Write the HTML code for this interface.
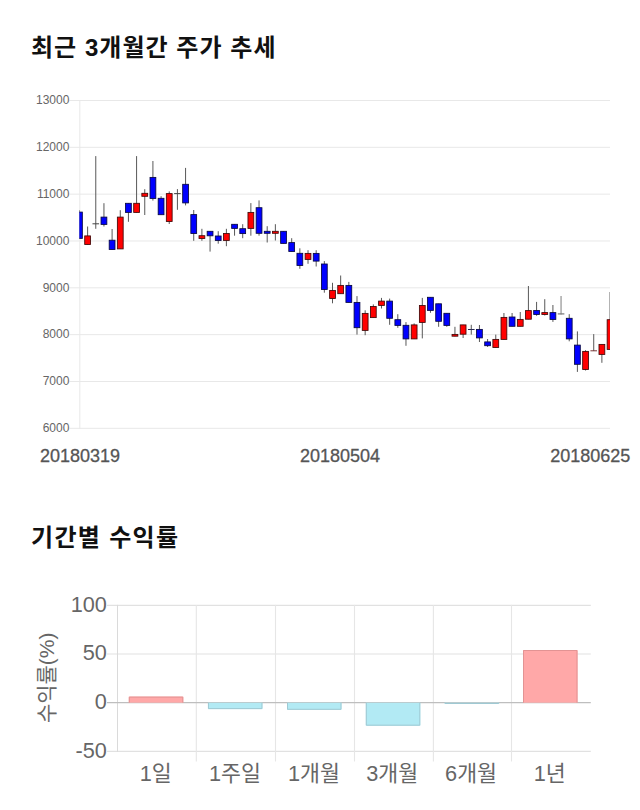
<!DOCTYPE html>
<html lang="ko">
<head>
<meta charset="utf-8">
<title>최근 3개월간 주가 추세 / 기간별 수익률</title>
<style>
html,body{margin:0;padding:0;background:#ffffff;}
body{width:640px;height:810px;overflow:hidden;font-family:"Liberation Sans",sans-serif;}
svg{display:block;position:absolute;left:0;top:0;}
text{font-family:"Liberation Sans","Noto Sans CJK KR",sans-serif;}
.grid{stroke:#e8e8e8;stroke-width:1;fill:none;}
.grid2{stroke:#e1e1e1;stroke-width:1.1;fill:none;}
.wick{stroke:#585858;stroke-width:1;fill:none;}
.up{fill:#ff0000;stroke:#400808;stroke-width:0.85;}
.dn{fill:#0000ff;stroke:#080840;stroke-width:0.85;}
.ttl{fill:#111111;}
.lbl{fill:#666666;}
.xl{fill:#555555;stroke:#555555;stroke-width:0.3;}
</style>
</head>
<body>
<svg width="640" height="810" viewBox="0 0 640 810" role="img" aria-label="최근 3개월간 주가 추세, 기간별 수익률">
<rect x="0" y="0" width="640" height="810" fill="#ffffff"/>
<text class="ttl" x="31" y="55.5" font-size="24" font-weight="bold" textLength="244.5" lengthAdjust="spacing">최근 3개월간 주가 추세</text>
<g id="candle-chart">
<g class="grid">
<line x1="69.4" y1="100.5" x2="610" y2="100.5"/>
<line x1="69.4" y1="147.33" x2="610" y2="147.33"/>
<line x1="69.4" y1="194.16" x2="610" y2="194.16"/>
<line x1="69.4" y1="240.99" x2="610" y2="240.99"/>
<line x1="69.4" y1="287.81" x2="610" y2="287.81"/>
<line x1="69.4" y1="334.64" x2="610" y2="334.64"/>
<line x1="69.4" y1="381.47" x2="610" y2="381.47"/>
<line x1="69.4" y1="428.3" x2="610" y2="428.3"/>
<line x1="79.8" y1="100" x2="79.8" y2="428.8"/>
</g>
<text class="lbl" x="69.4" y="104.2" font-size="12" text-anchor="end">13000</text>
<text class="lbl" x="69.4" y="151.03" font-size="12" text-anchor="end">12000</text>
<text class="lbl" x="69.4" y="197.86" font-size="12" text-anchor="end">11000</text>
<text class="lbl" x="69.4" y="244.69" font-size="12" text-anchor="end">10000</text>
<text class="lbl" x="69.4" y="291.52" font-size="12" text-anchor="end">9000</text>
<text class="lbl" x="69.4" y="338.34" font-size="12" text-anchor="end">8000</text>
<text class="lbl" x="69.4" y="385.17" font-size="12" text-anchor="end">7000</text>
<text class="lbl" x="69.4" y="432" font-size="12" text-anchor="end">6000</text>
<clipPath id="cc"><rect x="79.4" y="90" width="530.6" height="345"/></clipPath>
<g clip-path="url(#cc)">
<line class="wick" x1="79.45" y1="210.2" x2="79.45" y2="238.5"/><rect class="dn" x="76.55" y="212.1" width="5.8" height="26.3"/>
<line class="wick" x1="87.61" y1="226.5" x2="87.61" y2="244.6"/><rect class="up" x="84.71" y="235.9" width="5.8" height="8.6"/>
<line class="wick" x1="95.78" y1="156.1" x2="95.78" y2="228.8"/><line x1="92.48" y1="223.8" x2="99.08" y2="223.8" stroke="#444444" stroke-width="1"/>
<line class="wick" x1="103.94" y1="203.2" x2="103.94" y2="226.5"/><rect class="dn" x="101.04" y="217.1" width="5.8" height="7.3"/>
<line class="wick" x1="112.1" y1="229" x2="112.1" y2="249.6"/><rect class="dn" x="109.2" y="240.2" width="5.8" height="9.3"/>
<line class="wick" x1="120.27" y1="210.2" x2="120.27" y2="249"/><rect class="up" x="117.37" y="217.1" width="5.8" height="31.8"/>
<line class="wick" x1="128.43" y1="203.2" x2="128.43" y2="221.8"/><rect class="dn" x="125.53" y="203.3" width="5.8" height="9.1"/>
<line class="wick" x1="136.59" y1="156.1" x2="136.59" y2="212.5"/><rect class="up" x="133.69" y="203.3" width="5.8" height="9.1"/>
<line class="wick" x1="144.75" y1="189.2" x2="144.75" y2="215"/><rect class="up" x="141.85" y="193.3" width="5.8" height="3"/>
<line class="wick" x1="152.92" y1="161" x2="152.92" y2="200.6"/><rect class="dn" x="150.02" y="177.4" width="5.8" height="21.1"/>
<line class="wick" x1="161.08" y1="196.2" x2="161.08" y2="214.8"/><rect class="dn" x="158.18" y="198.3" width="5.8" height="16.4"/>
<line class="wick" x1="169.24" y1="191.4" x2="169.24" y2="224"/><rect class="up" x="166.34" y="193.6" width="5.8" height="27.9"/>
<line class="wick" x1="177.41" y1="189.1" x2="177.41" y2="209.8"/><line x1="174.11" y1="193.6" x2="180.71" y2="193.6" stroke="#444444" stroke-width="1"/>
<line class="wick" x1="185.57" y1="167.9" x2="185.57" y2="205.4"/><rect class="dn" x="182.67" y="184.3" width="5.8" height="18.6"/>
<line class="wick" x1="193.73" y1="210" x2="193.73" y2="240.8"/><rect class="dn" x="190.83" y="214.6" width="5.8" height="18.9"/>
<line class="wick" x1="201.9" y1="228.8" x2="201.9" y2="240.8"/><rect class="up" x="199" y="235.7" width="5.8" height="2.8"/>
<line class="wick" x1="210.06" y1="231.2" x2="210.06" y2="251.6"/><rect class="dn" x="207.16" y="231.3" width="5.8" height="4.5"/>
<line class="wick" x1="218.22" y1="231.2" x2="218.22" y2="243.7"/><rect class="dn" x="215.32" y="236" width="5.8" height="4.5"/>
<line class="wick" x1="226.39" y1="228.8" x2="226.39" y2="246.2"/><rect class="up" x="223.49" y="233.5" width="5.8" height="6.9"/>
<line class="wick" x1="234.55" y1="224.2" x2="234.55" y2="235.7"/><rect class="dn" x="231.65" y="224.3" width="5.8" height="4.1"/>
<line class="wick" x1="242.71" y1="224.2" x2="242.71" y2="238.2"/><rect class="dn" x="239.81" y="228.7" width="5.8" height="4.9"/>
<line class="wick" x1="250.87" y1="203.1" x2="250.87" y2="235.7"/><rect class="up" x="247.97" y="212.4" width="5.8" height="16"/>
<line class="wick" x1="259.04" y1="200.4" x2="259.04" y2="235.7"/><rect class="dn" x="256.14" y="207.7" width="5.8" height="25.6"/>
<line class="wick" x1="267.2" y1="226.2" x2="267.2" y2="242.5"/><rect class="dn" x="264.3" y="231.3" width="5.8" height="2"/>
<line class="wick" x1="275.36" y1="224.2" x2="275.36" y2="240.5"/><rect class="up" x="272.46" y="231.3" width="5.8" height="2"/>
<line class="wick" x1="283.53" y1="231.2" x2="283.53" y2="243.5"/><rect class="dn" x="280.63" y="231.3" width="5.8" height="12.1"/>
<line class="wick" x1="291.69" y1="238.2" x2="291.69" y2="251.6"/><rect class="dn" x="288.79" y="242.6" width="5.8" height="8.9"/>
<line class="wick" x1="299.85" y1="248.3" x2="299.85" y2="268.8"/><rect class="dn" x="296.95" y="253.3" width="5.8" height="12.2"/>
<line class="wick" x1="308.02" y1="250.2" x2="308.02" y2="263.8"/><rect class="up" x="305.12" y="253.4" width="5.8" height="6"/>
<line class="wick" x1="316.18" y1="250.2" x2="316.18" y2="266.5"/><rect class="dn" x="313.28" y="253.4" width="5.8" height="7.7"/>
<line class="wick" x1="324.34" y1="261.1" x2="324.34" y2="292.7"/><rect class="dn" x="321.44" y="264" width="5.8" height="25.5"/>
<line class="wick" x1="332.51" y1="282.8" x2="332.51" y2="303.3"/><rect class="up" x="329.61" y="290.4" width="5.8" height="8.1"/>
<line class="wick" x1="340.67" y1="275.5" x2="340.67" y2="293.8"/><rect class="up" x="337.77" y="285.4" width="5.8" height="8.3"/>
<line class="wick" x1="348.83" y1="281.9" x2="348.83" y2="302.5"/><rect class="dn" x="345.93" y="285.4" width="5.8" height="17"/>
<line class="wick" x1="356.99" y1="296.1" x2="356.99" y2="334.6"/><rect class="dn" x="354.09" y="302.4" width="5.8" height="25.3"/>
<line class="wick" x1="365.16" y1="310.3" x2="365.16" y2="335.2"/><rect class="up" x="362.26" y="313.4" width="5.8" height="17"/>
<line class="wick" x1="373.32" y1="304.4" x2="373.32" y2="317.7"/><rect class="up" x="370.42" y="306.5" width="5.8" height="11.1"/>
<line class="wick" x1="381.48" y1="297.9" x2="381.48" y2="308.5"/><rect class="up" x="378.58" y="301.1" width="5.8" height="4.3"/>
<line class="wick" x1="389.65" y1="298.6" x2="389.65" y2="324.8"/><rect class="dn" x="386.75" y="301.1" width="5.8" height="17.2"/>
<line class="wick" x1="397.81" y1="314.2" x2="397.81" y2="327.8"/><rect class="dn" x="394.91" y="319.7" width="5.8" height="5.7"/>
<line class="wick" x1="405.97" y1="322.1" x2="405.97" y2="345.8"/><rect class="dn" x="403.07" y="325.3" width="5.8" height="13.6"/>
<line class="wick" x1="414.14" y1="323.4" x2="414.14" y2="339"/><rect class="up" x="411.24" y="324.9" width="5.8" height="14"/>
<line class="wick" x1="422.3" y1="297.9" x2="422.3" y2="338.4"/><rect class="up" x="419.4" y="305.5" width="5.8" height="16.9"/>
<line class="wick" x1="430.46" y1="297.2" x2="430.46" y2="312.8"/><rect class="dn" x="427.56" y="297.3" width="5.8" height="13.1"/>
<line class="wick" x1="438.63" y1="303.7" x2="438.63" y2="326.8"/><rect class="dn" x="435.73" y="303.8" width="5.8" height="17.5"/>
<line class="wick" x1="446.79" y1="313.2" x2="446.79" y2="326.8"/><rect class="dn" x="443.89" y="313.3" width="5.8" height="12.1"/>
<line class="wick" x1="454.95" y1="326.8" x2="454.95" y2="336.3"/><rect class="up" x="452.05" y="334.4" width="5.8" height="1.8"/>
<line class="wick" x1="463.11" y1="324.8" x2="463.11" y2="338"/><rect class="up" x="460.21" y="324.9" width="5.8" height="9.3"/>
<line class="wick" x1="471.28" y1="324.8" x2="471.28" y2="334.6"/><line x1="467.98" y1="329.5" x2="474.58" y2="329.5" stroke="#2a2a55" stroke-width="1"/>
<line class="wick" x1="479.44" y1="325" x2="479.44" y2="342"/><rect class="dn" x="476.54" y="329.4" width="5.8" height="8.5"/>
<line class="wick" x1="487.6" y1="339" x2="487.6" y2="347"/><rect class="dn" x="484.7" y="341.9" width="5.8" height="3.8"/>
<line class="wick" x1="495.77" y1="334.6" x2="495.77" y2="347.6"/><rect class="up" x="492.87" y="339.4" width="5.8" height="8.1"/>
<line class="wick" x1="503.93" y1="313" x2="503.93" y2="339.5"/><rect class="up" x="501.03" y="317.4" width="5.8" height="22"/>
<line class="wick" x1="512.09" y1="313" x2="512.09" y2="326.4"/><rect class="dn" x="509.19" y="317" width="5.8" height="9.3"/>
<line class="wick" x1="520.26" y1="312" x2="520.26" y2="326.4"/><rect class="up" x="517.36" y="319.4" width="5.8" height="6.9"/>
<line class="wick" x1="528.42" y1="286" x2="528.42" y2="319.3"/><rect class="up" x="525.52" y="310.6" width="5.8" height="8.6"/>
<line class="wick" x1="536.58" y1="301.9" x2="536.58" y2="315.8"/><rect class="dn" x="533.68" y="310.5" width="5.8" height="4"/>
<line class="wick" x1="544.75" y1="299.2" x2="544.75" y2="315.5"/><rect class="up" x="541.85" y="312.6" width="5.8" height="1.9"/>
<line class="wick" x1="552.91" y1="305" x2="552.91" y2="321.9"/><rect class="dn" x="550.01" y="312.6" width="5.8" height="6.9"/>
<line x1="561.07" y1="296.1" x2="561.07" y2="314.5" stroke="#a8a8a8" stroke-width="1.5" fill="none"/><line x1="557.77" y1="313.9" x2="564.37" y2="313.9" stroke="#7c7c7c" stroke-width="1.25"/>
<line class="wick" x1="569.23" y1="314.2" x2="569.23" y2="341.3"/><rect class="dn" x="566.33" y="318.3" width="5.8" height="20.6"/>
<line class="wick" x1="577.4" y1="331.4" x2="577.4" y2="371.9"/><rect class="dn" x="574.5" y="345.1" width="5.8" height="19.2"/>
<line class="wick" x1="585.56" y1="350.2" x2="585.56" y2="370.5"/><rect class="up" x="582.66" y="351.4" width="5.8" height="18.1"/>
<line class="wick" x1="593.72" y1="334.1" x2="593.72" y2="351"/><line x1="590.42" y1="350.8" x2="597.02" y2="350.8" stroke="#7a3a3a" stroke-width="1"/>
<line class="wick" x1="601.89" y1="344.3" x2="601.89" y2="362.8"/><rect class="up" x="598.99" y="344.4" width="5.8" height="10"/>
<line class="wick" x1="610.05" y1="292" x2="610.05" y2="349.5"/><rect class="up" x="607.15" y="319.7" width="5.8" height="29.7"/>
</g>
<text class="xl" x="40" y="461.6" font-size="18">20180319</text>
<text class="xl" x="300" y="461.6" font-size="18">20180504</text>
<text class="xl" x="550.2" y="461.6" font-size="18">20180625</text>
</g>
<text class="ttl" x="31" y="545.5" font-size="24" font-weight="bold" textLength="147" lengthAdjust="spacing">기간별 수익률</text>
<g id="bar-chart">
<g class="grid2">
<line x1="107" y1="605.4" x2="590.8" y2="605.4"/>
<line x1="107" y1="653.95" x2="590.8" y2="653.95"/>
<line x1="107" y1="751.4" x2="590.8" y2="751.4"/>
<line x1="117.5" y1="604.9" x2="117.5" y2="751.9" stroke="#dadada" stroke-width="1"/>
<line x1="196.3" y1="604.9" x2="196.3" y2="761.5" stroke="#e6e6e6"/>
<line x1="275.5" y1="604.9" x2="275.5" y2="761.5" stroke="#e6e6e6"/>
<line x1="354.5" y1="604.9" x2="354.5" y2="761.5" stroke="#e6e6e6"/>
<line x1="433.4" y1="604.9" x2="433.4" y2="761.5" stroke="#e6e6e6"/>
<line x1="511.5" y1="604.9" x2="511.5" y2="761.5" stroke="#e6e6e6"/>
</g>
<line x1="107" y1="702.7" x2="590.8" y2="702.7" stroke="#bebebe" stroke-width="1.3"/>
<text class="lbl" x="106.9" y="611.8" font-size="21.7" text-anchor="end">100</text>
<text class="lbl" x="106.9" y="660.35" font-size="21.7" text-anchor="end">50</text>
<text class="lbl" x="106.9" y="709.1" font-size="21.7" text-anchor="end">0</text>
<text class="lbl" x="106.9" y="757.8" font-size="21.7" text-anchor="end">-50</text>
<rect x="128.8" y="696.6" width="54.5" height="6.1" fill="#ffa8a8"/><path d="M129.3 702.7 V697.1 H182.8 V702.7" fill="none" stroke="#e29393" stroke-width="1"/>
<rect x="207.95" y="702.7" width="54.5" height="6.4" fill="#b2eaf4"/><path d="M208.45 702.7 V708.6 H261.95 V702.7" fill="none" stroke="#9fc9d3" stroke-width="1"/>
<rect x="287" y="702.7" width="54.5" height="7.1" fill="#b2eaf4"/><path d="M287.5 702.7 V709.3 H341 V702.7" fill="none" stroke="#9fc9d3" stroke-width="1"/>
<rect x="365.8" y="702.7" width="54.5" height="23" fill="#b2eaf4"/><path d="M366.3 702.7 V725.2 H419.8 V702.7" fill="none" stroke="#9fc9d3" stroke-width="1"/>
<rect x="444.6" y="702.7" width="54.5" height="1.3" fill="#b2eaf4"/><path d="M445.1 702.7 V703.5 H498.6 V702.7" fill="none" stroke="#9fc9d3" stroke-width="1"/>
<rect x="523" y="650" width="54.5" height="52.7" fill="#ffa8a8"/><path d="M523.5 702.7 V650.5 H577 V702.7" fill="none" stroke="#e29393" stroke-width="1"/>
<text class="lbl" x="155.8" y="780.5" font-size="21.7" text-anchor="middle">1일</text>
<text class="lbl" x="235" y="780.5" font-size="21.7" text-anchor="middle">1주일</text>
<text class="lbl" x="313.9" y="780.5" font-size="21.7" text-anchor="middle">1개월</text>
<text class="lbl" x="392.3" y="780.5" font-size="21.7" text-anchor="middle">3개월</text>
<text class="lbl" x="471.1" y="780.5" font-size="21.7" text-anchor="middle">6개월</text>
<text class="lbl" x="549.8" y="780.5" font-size="21.7" text-anchor="middle">1년</text>
<g transform="translate(53.6,678.4) rotate(-90)"><text class="lbl" x="0.6" y="0" font-size="21" text-anchor="middle">수익률(%)</text>
</g>
</g>
</svg>
</body>
</html>
